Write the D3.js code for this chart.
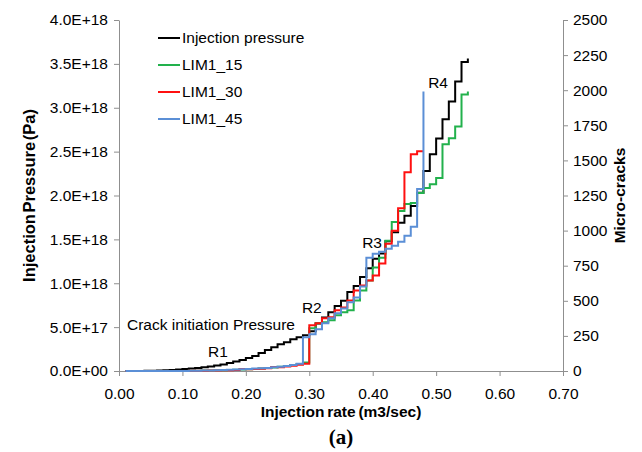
<!DOCTYPE html>
<html>
<head>
<meta charset="utf-8">
<script src="https://cdn.jsdelivr.net/npm/d3@7"></script>
<style>
    body { margin: 0; background: #fff; }
    #chart { width: 642px; height: 452px; }
    text { font-family: "Liberation Sans", Arial, sans-serif; fill: #000; }
</style>
</head>
<body>
<div id="chart"></div>
<script>
// injection rate (m3/sec), one step every 0.01
const rate = [0.01, 0.02, 0.03, 0.04, 0.05, 0.06, 0.07, 0.08, 0.09, 0.10,
    0.11, 0.12, 0.13, 0.14, 0.15, 0.16, 0.17, 0.18, 0.19, 0.20,
    0.21, 0.22, 0.23, 0.24, 0.25, 0.26, 0.27, 0.28, 0.29, 0.30,
    0.31, 0.32, 0.33, 0.34, 0.35, 0.36, 0.37, 0.38, 0.39, 0.40,
    0.41, 0.42, 0.43, 0.44, 0.45, 0.46, 0.47, 0.48, 0.49, 0.50,
    0.51, 0.52, 0.53, 0.54, 0.55];

// injection pressure, in units of 1E+18 Pa (left axis)
const injectionPressure = [0, 0, 0.001, 0.002, 0.003, 0.006, 0.009, 0.012, 0.017, 0.023,
    0.028, 0.034, 0.042, 0.051, 0.062, 0.074, 0.091, 0.108, 0.125, 0.147,
    0.170, 0.204, 0.238, 0.272, 0.306, 0.329, 0.363, 0.385, 0.408, 0.453,
    0.54, 0.61, 0.67, 0.74, 0.80, 0.90, 0.97, 1.07, 1.17, 1.28,
    1.34, 1.48, 1.58, 1.69, 1.77, 1.88, 2.03, 2.28, 2.47, 2.65,
    2.87, 3.07, 3.30, 3.52, 3.56];

// micro-cracks (right axis)
const lim1_15 = [0, 0, 0, 0, 0, 0, 0, 0, 0, 0,
    1, 2, 3, 4, 5, 6, 7, 9, 11, 13,
    15, 18, 21, 25, 30, 36, 42, 50, 60, 305,
    340, 347, 361, 397, 418, 432, 503, 574, 644, 737,
    807, 928, 1062, 1140, 1190, 1197, 1268, 1303, 1331, 1374,
    1615, 1657, 1742, 1969, 1990];

const lim1_30 = [0, 0, 0, 0, 0, 0, 0, 0, 0, 0,
    1, 1, 2, 3, 4, 5, 6, 8, 14, 12,
    14, 16, 20, 28, 27, 32, 38, 45, 52, 326,
    340, 375, 382, 432, 453, 503, 574, 609, 644, 680,
    765, 906, 999, 1160, 1416, 1544, 1565, 1565];

const lim1_45 = [0, 0, 0, 0, 0, 0, 0, 0, 0, 0,
    1, 2, 3, 4, 5, 7, 9, 11, 13, 15,
    17, 19, 22, 26, 30, 35, 42, 52, 241, 262,
    297, 340, 375, 411, 446, 489, 524, 602, 807, 836,
    850, 871, 892, 921, 963, 1027, 1296, 1990];

const xTicks = [0, 0.1, 0.2, 0.3, 0.4, 0.5, 0.6, 0.7];
const leftTicks = [0, 0.5, 1, 1.5, 2, 2.5, 3, 3.5, 4];
const rightTicks = [0, 250, 500, 750, 1000, 1250, 1500, 1750, 2000, 2250, 2500];

const seriesNames = ["Injection pressure", "LIM1_15", "LIM1_30", "LIM1_45"];
const seriesColors = ["#000000", "#22b14c", "#ff1010", "#5b8fd6"];

// annotations placed in data space (rate, pressure E+18)
const notes = [
    { text: "Crack initiation Pressure", x: 0.0126, y: 0.467, anchor: "start" },
    { text: "R1", x: 0.156, y: 0.16, anchor: "middle" },
    { text: "R2", x: 0.304, y: 0.661, anchor: "middle" },
    { text: "R3", x: 0.399, y: 1.40, anchor: "middle" },
    { text: "R4", x: 0.503, y: 3.225, anchor: "middle" }
];

const margin = { top: 20, right: 79, bottom: 81, left: 119 };
const width = 642 - margin.left - margin.right;
const height = 452 - margin.top - margin.bottom;

const svg = d3.select("#chart")
    .append("svg")
    .attr("width", 642)
    .attr("height", 452);

const g = svg.append("g")
    .attr("transform", "translate(" + margin.left + "," + margin.top + ")");

const xScale = d3.scaleLinear().domain([0, 0.7]).range([0, width]);
const yLeft = d3.scaleLinear().domain([0, 4]).range([height, 0]);
const yRight = d3.scaleLinear().domain([0, 2500]).range([height, 0]);

const axisColor = "#8f8f8f";

function fmtPressure(d) {
    let s = (d * 1e18).toExponential(1).toUpperCase();
    return s.replace(/E([+-])(\d)$/, "E$10$2");
}

// axes
const xAxis = g.append("g")
    .attr("transform", "translate(0," + height + ")")
    .call(d3.axisBottom(xScale).tickValues(xTicks).tickFormat(d3.format(".2f")).tickSize(5).tickSizeOuter(0));

const leftAxis = g.append("g")
    .call(d3.axisLeft(yLeft).tickValues(leftTicks).tickFormat(fmtPressure).tickSize(5).tickSizeOuter(0));

const rightAxis = g.append("g")
    .attr("transform", "translate(" + width + ",0)")
    .call(d3.axisRight(yRight).tickValues(rightTicks).tickFormat(d3.format("d")).tickSize(5).tickSizeOuter(0));

[xAxis, leftAxis, rightAxis].forEach(ax => {
    ax.select(".domain").attr("stroke", axisColor);
    ax.selectAll(".tick line").attr("stroke", axisColor);
    ax.selectAll(".tick text")
        .style("font-family", "'Liberation Sans', Arial, sans-serif")
        .style("font-size", "15.5px")
        .attr("fill", "#000");
});
xAxis.selectAll(".tick text").attr("dy", "1.3em");
leftAxis.selectAll(".tick text").attr("x", -11);
rightAxis.selectAll(".tick text").attr("x", 10);

// series (step lines)
const lineLeft = d3.line()
    .x(d => xScale(d.r))
    .y(d => yLeft(d.v))
    .curve(d3.curveStepAfter);

const lineRight = d3.line()
    .x(d => xScale(d.r))
    .y(d => yRight(d.v))
    .curve(d3.curveStepAfter);

function pairs(values) {
    return values.map((v, i) => ({ r: rate[i], v: v }));
}

g.append("path")
    .datum(pairs(injectionPressure))
    .attr("fill", "none")
    .attr("stroke", seriesColors[0])
    .attr("stroke-width", 2)
    .attr("d", lineLeft);

[lim1_15, lim1_30, lim1_45].forEach((s, i) => {
    g.append("path")
        .datum(pairs(s))
        .attr("fill", "none")
        .attr("stroke", seriesColors[i + 1])
        .attr("stroke-width", 2)
        .attr("d", lineRight);
});

// annotations
g.selectAll(".note")
    .data(notes)
    .enter().append("text")
    .attr("class", "note")
    .attr("x", d => xScale(d.x))
    .attr("y", d => yLeft(d.y))
    .attr("text-anchor", d => d.anchor)
    .style("font-size", "15.5px")
    .text(d => d.text);

// legend
const legend = svg.append("g").attr("transform", "translate(158,38)");
const rows = legend.selectAll("g")
    .data(seriesNames)
    .enter().append("g")
    .attr("transform", (d, i) => "translate(0," + (i * 27) + ")");
rows.append("line")
    .attr("x1", 0).attr("x2", 22)
    .attr("y1", 0).attr("y2", 0)
    .attr("stroke", (d, i) => seriesColors[i])
    .attr("stroke-width", 2);
rows.append("text")
    .attr("x", 24)
    .attr("dy", "0.35em")
    .style("font-size", "15.5px")
    .text(d => d);

// axis titles
svg.append("text")
    .attr("transform", "translate(35," + (margin.top + height / 2) + ") rotate(-90)")
    .attr("text-anchor", "middle")
    .style("font-size", "16.5px")
    .style("font-weight", "bold")
    .style("word-spacing", "-3px")
    .text("Injection Pressure (Pa)");

svg.append("text")
    .attr("transform", "translate(625," + (margin.top + height / 2) + ") rotate(-90)")
    .attr("text-anchor", "middle")
    .style("font-size", "15.5px")
    .style("font-weight", "bold")
    .text("Micro-cracks");

svg.append("text")
    .attr("x", margin.left + width / 2)
    .attr("y", 417)
    .attr("text-anchor", "middle")
    .style("font-size", "15.5px")
    .style("font-weight", "bold")
    .style("word-spacing", "-1.5px")
    .text("Injection rate (m3/sec)");

svg.append("text")
    .attr("x", margin.left + width / 2)
    .attr("y", 444)
    .attr("text-anchor", "middle")
    .style("font-family", "'Liberation Serif', 'Times New Roman', serif")
    .style("font-size", "21px")
    .style("font-weight", "bold")
    .text("(a)");
</script>
</body>
</html>
